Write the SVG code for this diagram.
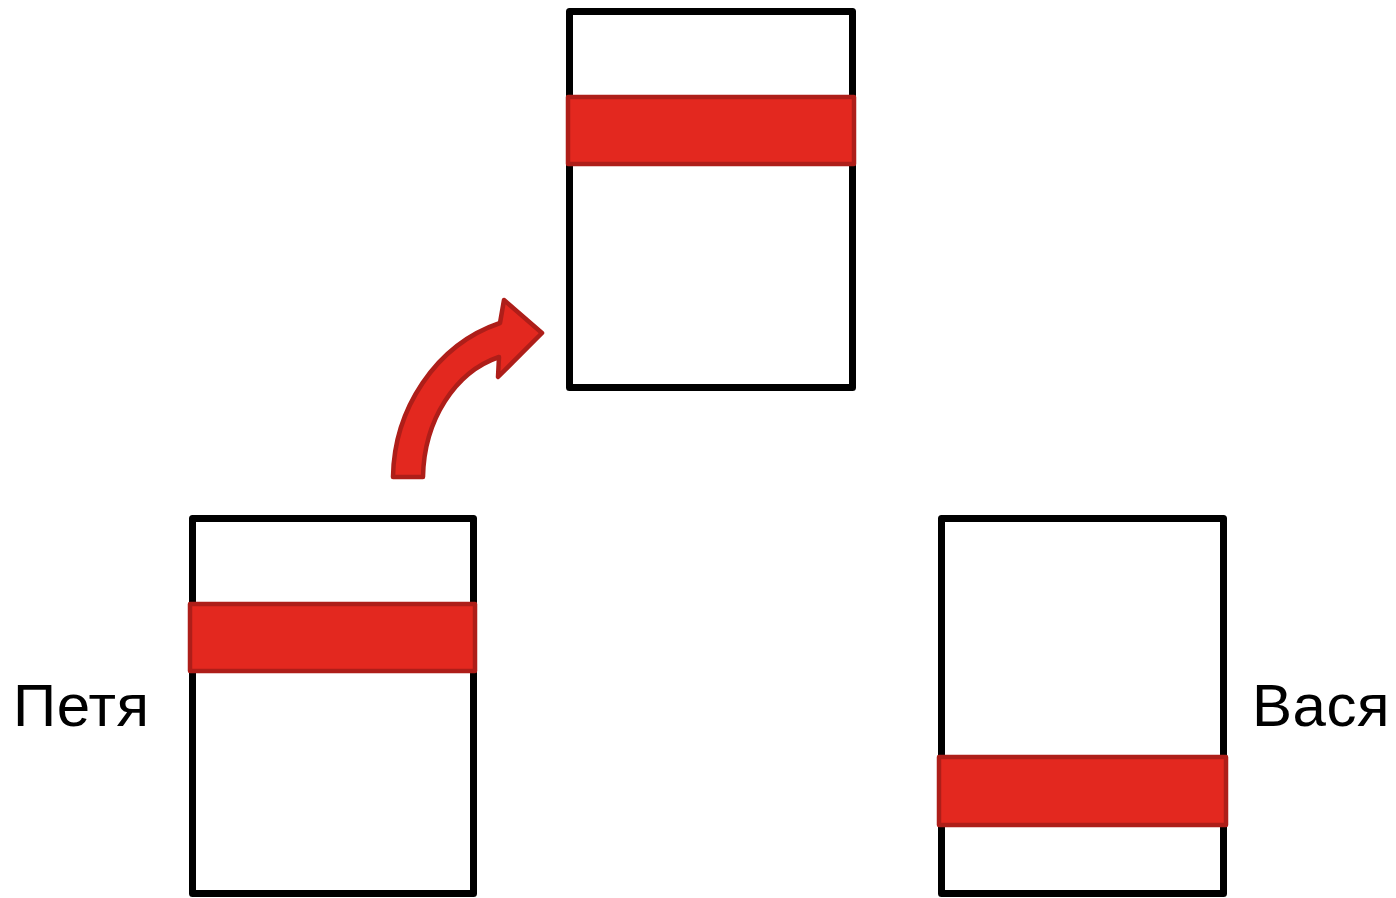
<svg xmlns="http://www.w3.org/2000/svg" width="1396" height="898" viewBox="0 0 1396 898">
<style>
.box{fill:#fff;stroke:#000;stroke-width:7;stroke-linejoin:round}
.bar{fill:#e3281f;stroke:#ae1e19;stroke-width:4.5;stroke-linejoin:round}
.lbl{font-family:"Liberation Sans",Arial,sans-serif;font-size:60px;letter-spacing:0.5px;fill:#000}
</style>
<rect width="1396" height="898" fill="#fff"/>
<g id="top-box">
<rect class="box" x="569.5" y="11.5" width="283" height="376"/>
<rect class="bar" x="568" y="97" width="286" height="67"/>
</g>
<g id="petya">
<rect class="box" x="192.5" y="518.5" width="281" height="375"/>
<rect class="bar" x="190" y="604" width="285" height="67"/>
<text class="lbl" x="13" y="726">Петя</text>
</g>
<g id="vasya">
<rect class="box" x="941.5" y="518.5" width="282" height="375"/>
<rect class="bar" x="939" y="757" width="287" height="68"/>
<text class="lbl" x="1252" y="726">Вася</text>
</g>
<g id="connectors">
<path class="bar" d="M393,477 C394,410 435,345 500,323 L504,300 L542,333 L498,377 L499,357 C455,372 424,420 423,477 Z"/>
</g>
</svg>
